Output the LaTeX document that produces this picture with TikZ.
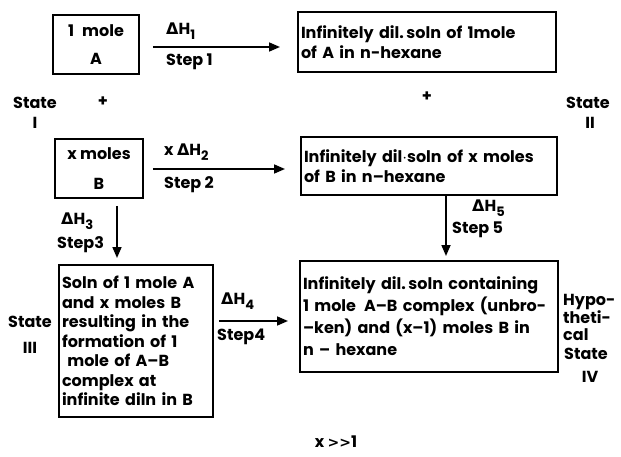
\documentclass[tikz,border=0pt]{standalone}
\usepackage{fontspec}
\setmainfont{Poppins}
\newfontfamily\grk{DejaVu Sans}
\usetikzlibrary{arrows.meta}
\newcommand{\dH}[1]{{\grk\bfseries Δ}H\raisebox{-5pt}{\fontsize{13}{13}\selectfont #1}}
\begin{document}
\begin{tikzpicture}[x=1pt,y=-1pt,
  font=\bfseries\fontsize{16}{18}\selectfont,
  box/.style={draw, line width=1.8pt, inner sep=0pt},
  arr/.style={line width=1.7pt, -{Triangle[length=11pt,width=9pt]}},
  lbl/.style={inner sep=0pt}]
\useasboundingbox (0,0) rectangle (621,457);

% boxes
\node[box, minimum width=86pt, minimum height=59pt, align=center,
      font=\bfseries\fontsize{16}{28}\selectfont] (a) at (96,44.5) {1\enspace mole\\A};
\node[box, minimum width=258pt, minimum height=60pt, text width=252pt, align=left,
      font=\bfseries\fontsize{16}{20}\selectfont] (b) at (427,42)
      {\raisebox{7pt}{\parbox{252pt}{Infinitely dil.\,soln of 1mole\\of A in n-hexane}}};
\node[box, minimum width=88pt, minimum height=59pt, align=center,
      font=\bfseries\fontsize{16}{30}\selectfont] (c) at (99,168.5) {x moles\\B};
\node[box, minimum width=256pt, minimum height=58pt, text width=250pt, align=left,
      font=\bfseries\fontsize{16}{20}\selectfont] (d) at (429,166)
      {\raisebox{4pt}{\parbox{250pt}{Infinitely dil$\cdot$soln of x moles\\of B in n--hexane}}};
\node[box, minimum width=154pt, minimum height=152pt, text width=148pt, align=left,
      font=\bfseries\fontsize{16}{19.5}\selectfont] (e) at (136,341)
      {Soln of 1 mole A\\and x moles B\\resulting in the\\formation of 1\\\ mole of A--B\\complex at\\infinite diln in B};
\node[box, minimum width=258pt, minimum height=111pt, text width=252pt, align=left,
      font=\bfseries\fontsize{16}{22}\selectfont] (f) at (429,316.5)
      {\raisebox{3pt}{\parbox{252pt}{Infinitely dil.\,soln containing\\1 mole\enspace A--B complex (unbro-\\--ken) and (x--1) moles B in\\n -- hexane}}};

% arrows
\coordinate (a1) at (152,47); \coordinate (a2) at (280,47);
\draw[arr] (a.east |- a1) ++(13,0) -- (a2);
\coordinate (c2) at (285,169);
\draw[arr] (c.east |- c2) ++(9,0) -- (c2);
\coordinate (c3) at (117,258);
\draw[arr] (c.south -| c3) ++(0,7) -- (c3);
\coordinate (d5) at (446,256);
\draw[arr] (d.south -| d5) -- (d5);
\coordinate (e4) at (288,321);
\draw[arr] (e.east |- e4) ++(5,0) -- (e4);

% arrow labels
\node[lbl, anchor=west] (l1) at (166,31) {\dH{1}};
\node[lbl, anchor=west] (s1) at (166,62) {Step 1};
\node[lbl, anchor=west] (l2) at (164,152) {x \dH{2}};
\node[lbl, anchor=west] (s2) at (164,185) {Step 2};
\node[lbl, anchor=west] (l3) at (61,221) {\dH{3}};
\node[lbl, anchor=west] (s3) at (57,245) {Step3};
\node[lbl, anchor=west] (l5) at (472,208) {\dH{5}};
\node[lbl, anchor=west] (s5) at (452,230) {Step 5};
\node[lbl, anchor=west] (l4) at (221,301) {\dH{4}};
\node[lbl, anchor=west] (s4) at (217,337) {Step4};

% state labels
\node[lbl] (st1) at (35,103) {State};
\node[lbl] (st1n) at (35,123) {I};
\node[lbl] (p1) at (103,102) {+};
\node[lbl] (p2) at (427,97) {+};
\node[lbl] (st2) at (588,103) {State};
\node[lbl] (st2n) at (590,123) {II};
\node[lbl] (st3) at (30,322) {State};
\node[lbl] (st3n) at (30,348) {III};
\node[lbl, anchor=west, align=left, font=\bfseries\fontsize{16}{17}\selectfont] (hyp) at (563,317) {Hypo-\\theti-\\cal};
\node[lbl] (st4) at (586,354) {State};
\node[lbl] (st4n) at (590,377) {IV};
\node[lbl] (x) at (336,442) {x {\grk\bfseries\fontsize{14}{14}\selectfont >{}>}1};
\end{tikzpicture}
\end{document}
